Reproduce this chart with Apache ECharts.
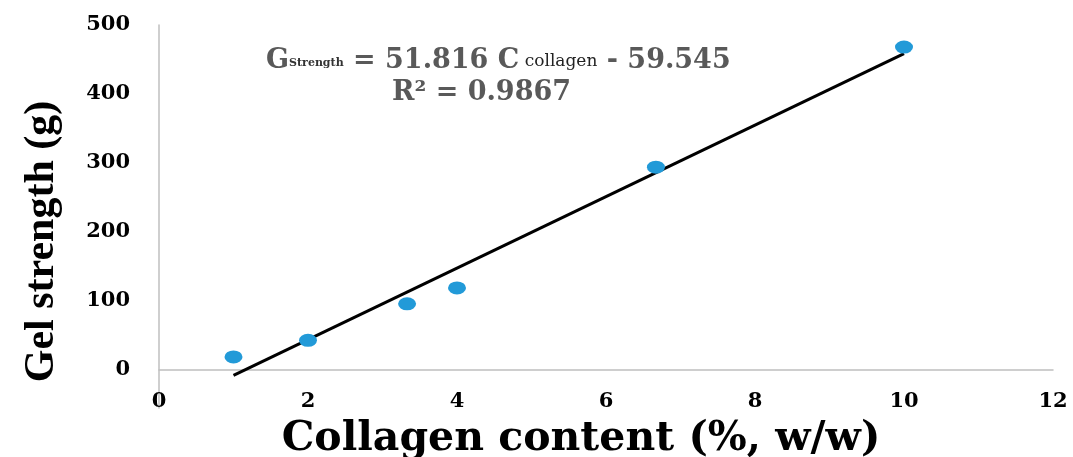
<!DOCTYPE html>
<html>
<head>
<meta charset="utf-8">
<script src="https://cdn.jsdelivr.net/npm/echarts@6/dist/echarts.min.js"></script>
<style>html,body{margin:0;padding:0;background:#fff}#c{width:1073px;height:457px}</style>
</head>
<body>
<div id="c"></div>
<script>
// Data
const collagen = [1, 2, 3.33, 4, 6.67, 10];
const gelStrength = [19, 43, 96, 119, 294, 468];
// Linear trendline (from the equation in the chart)
const slope = 51.816;
const intercept = -59.545;
const trendX = [1, 10];
const xTicks = [0, 2, 4, 6, 8, 10, 12];
const yTicks = [0, 100, 200, 300, 400, 500];
const xTitle = 'Collagen content (%, w/w)';
const yTitle = 'Gel strength (g)';

const trendData = trendX.map(x => [x, slope * x + intercept]);
const pts = collagen.map((x, i) => [x, gelStrength[i]]);

const chart = echarts.init(document.getElementById('c'), null, {renderer: 'canvas'});
const serifW = 'DejaVu Serif';
chart.setOption({
  animation: false,
  backgroundColor: '#fff',
  grid: {left: 159, right: 20, top: 25, bottom: 49, containLabel: false, outerBoundsMode: 'none'},
  xAxis: {
    type: 'value', min: 0, max: 12, interval: 2,
    axisLine: {onZero: true, lineStyle: {color: '#bfbfbf', width: 1.5}},
    axisTick: {show: false},
    splitLine: {show: false},
    axisLabel: {margin: -17, color: '#000', fontFamily: serifW, fontWeight: 'bold', fontSize: 21,
      customValues: xTicks},
    name: xTitle, nameLocation: 'middle', nameGap: 11,
    nameTextStyle: {color: '#000', fontFamily: serifW, fontWeight: 'bold', fontSize: 41, padding: [0, 50, 0, 0]}
  },
  yAxis: {
    type: 'value', min: -55, max: 500,
    axisLine: {show: true, onZero: false, lineStyle: {color: '#bfbfbf', width: 1.5}},
    axisTick: {show: false},
    splitLine: {show: false},
    axisLabel: {margin: 29, color: '#000', fontFamily: serifW, fontWeight: 'bold', fontSize: 21,
      customValues: yTicks},
    name: yTitle, nameLocation: 'middle', nameGap: 96,
    nameTextStyle: {color: '#000', fontFamily: 'Liberation Serif', fontWeight: 'bold', fontSize: 42, padding: [0, 50, 0, 0]}
  },
  series: [
    {
      type: 'line', data: trendData, symbol: 'none', clip: false,
      lineStyle: {color: '#000', width: 3}, z: 2
    },
    {
      type: 'scatter', data: pts, symbol: 'circle', symbolSize: [18, 13],
      itemStyle: {color: '#229ad8', opacity: 1}, z: 3
    }
  ],
  graphic: [
    {
      type: 'text', left: 266, top: 47,
      style: {
        text: '{big|G}{s1|Strength}{big| = 51.816 C}{s2| collagen}{big| - 59.545}',
        rich: {
          big: {fontFamily: serifW, fontWeight: 'bold', fontSize: 27, fill: '#595959', verticalAlign: 'bottom', lineHeight: 29},
          s1: {fontFamily: serifW, fontWeight: 'bold', fontSize: 11, fill: '#333', verticalAlign: 'bottom', lineHeight: 29, padding: [0,0,5,0]},
          s2: {fontFamily: serifW, fontWeight: 'normal', fontSize: 17, fill: '#222', verticalAlign: 'bottom', lineHeight: 29, padding: [0,0,4,0]}
        }
      }
    },
    {
      type: 'text', left: 392, top: 79,
      style: {text: 'R² = 0.9867', fontFamily: serifW, fontWeight: 'bold', fontSize: 27, fill: '#595959'}
    }
  ]
});
</script>
</body>
</html>
